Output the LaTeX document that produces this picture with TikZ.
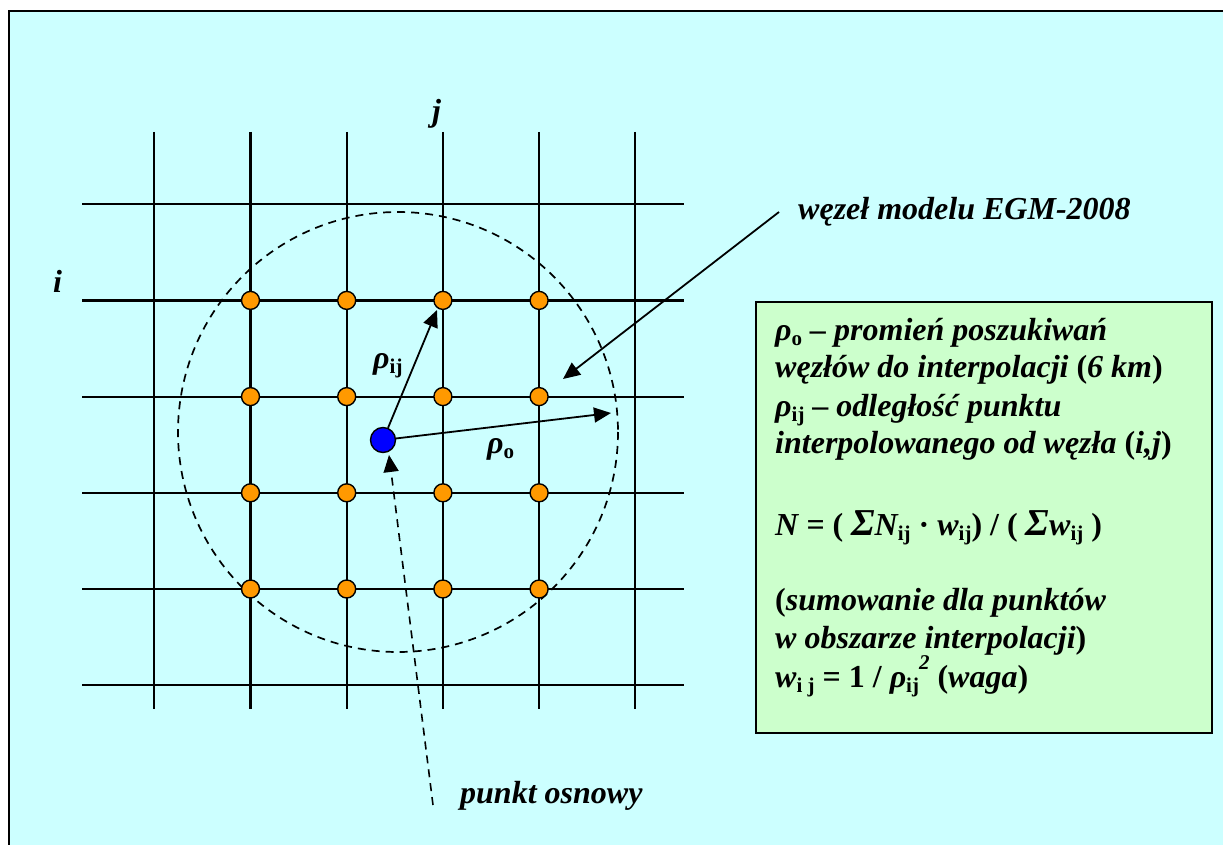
\documentclass[tikz,border=0pt]{standalone}
\usepackage{fontspec}
\setmainfont{Liberation Serif}
\usetikzlibrary{arrows.meta}
\definecolor{bgc}{HTML}{CCFFFF}
\definecolor{boxc}{HTML}{CCFFCC}
\definecolor{dotc}{HTML}{FF9900}
\newcommand{\lo}[1]{\raisebox{-0.18em}{\fontsize{21}{21}\selectfont\upshape #1}}
\newcommand{\hi}[1]{\raisebox{0.55em}{\fontsize{21}{21}\selectfont #1}}
\newcommand{\bigsig}{{\fontsize{38}{38}\selectfont Σ}}
\tikzset{
  lbl/.style={font=\fontsize{32}{38}\selectfont\bfseries\itshape, inner sep=0pt, anchor=base west},
  gridline/.style={line width=2.2pt},
  dot/.style={circle, draw, line width=1.4pt, fill=dotc, minimum size=18pt, inner sep=0pt},
  basept/.style={circle, draw, line width=1.4pt, fill=blue, minimum size=25pt, inner sep=0pt},
  arr/.style={line width=1.8pt, -{Triangle[length=17pt,width=15pt]}},
  dasharr/.style={line width=1.6pt, dash pattern=on 8pt off 6pt, -{Triangle[length=17pt,width=15pt]}},
  frame/.style={line width=2pt}
}
\begin{document}
\begin{tikzpicture}[x=1pt,y=-1pt]
\useasboundingbox (0,0) rectangle (1223,845);
% background frame
\fill[bgc] (9,11) rectangle (1240,860);
\draw[frame] (1240,11) -- (9,11) -- (9,860);
% grid
\foreach \k in {0,...,5}{
  \draw[gridline] ({154.3+96.2*\k},132) -- ({154.3+96.2*\k},709);
  \draw[gridline] (82,{204.2+96.2*\k}) -- (684,{204.2+96.2*\k});
}
% search circle
\draw[line width=1.7pt, dash pattern=on 8pt off 6pt] (398,432) circle[radius=220];
% grid nodes
\foreach \r in {1,...,4}{
  \foreach \c in {1,...,4}{
    \node[dot] (d\r\c) at ({154.3+96.2*\c},{204.2+96.2*\r}) {};
  }
}
% base point
\node[basept] (bp) at (383,440) {};
% labels
\node[lbl] (jl) at (432,122) {j};
\node[lbl] (il) at (53,292) {i};
\node[lbl] (rij) at (373,368) {ρ\lo{ij}};
\node[lbl] (ro) at (487,453) {ρ\lo{o}};
\node[lbl] (wl) at (798,219) {węzeł modelu EGM-2008};
\node[lbl] (pl) at (460,803) {punkt osnowy};
% arrows
\coordinate (tij) at (437,310);
\coordinate (to) at (611,413);
\coordinate (ws) at (779,212);
\coordinate (wt) at (563,379);
\coordinate (ps) at (433,805);
\coordinate (pt) at (389,455);
\draw[arr] (bp) -- (tij);
\draw[arr] (bp) -- (to);
\draw[arr] (ws) -- (wt);
\draw[dasharr] (ps) -- (pt);
% info box
\node[draw, line width=2pt, fill=boxc, minimum width=456pt, minimum height=431pt, inner sep=0pt, anchor=north west] (box) at (755,301) {};
\node[lbl] (t1) at (775,340) {ρ\lo{o} – promień poszukiwań};
\node[lbl] (t2) at (775,377) {węzłów do interpolacji \textup{(}6 km\textup{)}};
\node[lbl] (t3) at (775,416) {ρ\lo{ij} – odległość punktu};
\node[lbl] (t4) at (775,453) {interpolowanego od węzła \textup{(}i,j\textup{)}};
\node[lbl] (t5) at (775,535) {N = \textup{(} \bigsig N\lo{ij} \textup{·} w\lo{ij}\textup{) / (} \bigsig w\lo{ij} \textup{)}};
\node[lbl] (t6) at (775,610) {\textup{(}sumowanie dla punktów};
\node[lbl] (t7) at (775,648) {w obszarze interpolacji\textup{)}};
\node[lbl] (t8) at (775,687) {w\lo{i j} \textup{=} \textup{1 /} ρ\lo{ij}\hi{2} \textup{(}waga\textup{)}};
\end{tikzpicture}
\end{document}
